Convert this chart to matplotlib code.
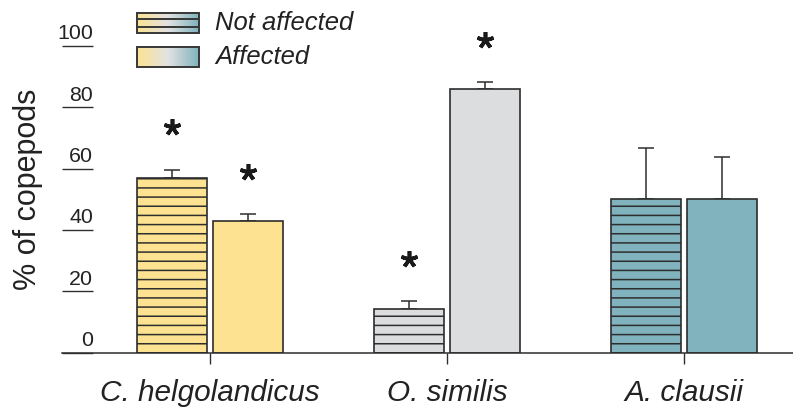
import numpy as np
import matplotlib
matplotlib.use("Agg")
import matplotlib.pyplot as plt
from matplotlib.colors import LinearSegmentedColormap
from matplotlib.transforms import ScaledTranslation

# ---- data ----
species = ["C. helgolandicus", "O. similis", "A. clausii"]
not_affected = [56.9, 14.3, 50.0]
not_affected_err = [2.7, 2.5, 16.6]
affected = [43.0, 85.8, 50.0]
affected_err = [2.2, 2.4, 13.7]
significant_not_affected = [True, True, False]
significant_affected = [True, True, False]
yticks = [0, 20, 40, 60, 80, 100]
ylabel = "% of copepods"
legend_labels = ["Not affected", "Affected"]

# ---- style ----
DPI = 110
W, H = 793, 412
bar_colors = ["#fde391", "#dcdddf", "#80b3bd"]
edge = "#2e2e2e"
txt = "#222222"
plt.rcParams["font.family"] = ["Liberation Sans", "DejaVu Sans"]
plt.rcParams["hatch.linewidth"] = 1.0

fig = plt.figure(figsize=(W / DPI, H / DPI), dpi=DPI)
px_per_unit = 3.07
y0 = 352.7
ymax = 110
top_px = y0 - ymax * px_per_unit
ax = fig.add_axes([62 / W, (H - y0) / H, (W - 62) / W, (y0 - top_px) / H])

x = np.arange(len(species))
off, bw = 0.16, 0.293
ax.bar(x - off, not_affected, width=bw, color=bar_colors, edgecolor=edge,
       linewidth=1.1, hatch="--", zorder=2)
ax.bar(x + off, affected, width=bw, color=bar_colors, edgecolor=edge,
       linewidth=1.1, zorder=2)
for xs, v, e in ((x - off, not_affected, not_affected_err), (x + off, affected, affected_err)):
    ax.errorbar(xs, v, yerr=[np.zeros(len(v)), e], fmt="none", ecolor=edge,
                elinewidth=1.0, capsize=5.2, capthick=1.0, zorder=1)

# significance asterisks
for xs, v, e, sig in ((x - off, not_affected, not_affected_err, significant_not_affected),
                      (x + off, affected, affected_err, significant_affected)):
    for xi, vi, ei, s in zip(xs, v, e, sig):
        if s:
            ax.plot(xi, vi + ei + 13.8, marker=(5, 2, 0), markersize=11,
                    markeredgewidth=2.4, color="#1a1a1a", clip_on=False)

ax.set_xlim(-(210 - 62) / 237, 2 + (W - 684) / 237)
ax.set_ylim(0, ymax)
for s in ("left", "top", "right"):
    ax.spines[s].set_visible(False)
ax.spines["bottom"].set_linewidth(1.0)
ax.spines["bottom"].set_color(edge)

ax.set_xticks(x)
ax.set_xticklabels(species, fontsize=19.5, style="italic", color=txt)
ax.tick_params(axis="x", length=7.2, width=0.9, color=edge, pad=10)

ax.set_yticks(yticks)
ax.set_yticklabels([str(t) for t in yticks], fontsize=14, color=txt)
ax.tick_params(axis="y", direction="in", length=20.3, width=0.9, color=edge, pad=-20.5)
shift = ScaledTranslation(0, 14 / DPI, fig.dpi_scale_trans)
for lab in ax.get_yticklabels():
    lab.set_transform(lab.get_transform() + shift)

ax.set_ylabel(ylabel, fontsize=20, color=txt)
ax.yaxis.set_label_coords(-0.026, 0.485)

# ---- legend with gradient swatches ----
cmap = LinearSegmentedColormap.from_list("g", ["#fde391", "#e2e2e2", "#80b3bd"])
grad = np.linspace(0, 1, 256)[None, :]
for i, (lab, ytop) in enumerate(zip(legend_labels, (13, 47))):
    lax = fig.add_axes([137 / W, (H - ytop - 20) / H, 62 / W, 20 / H])
    lax.imshow(grad, aspect="auto", cmap=cmap, extent=(0, 1, 0, 1))
    lax.set_xlim(0, 1)
    lax.set_ylim(0, 1)
    lax.set_xticks([])
    lax.set_yticks([])
    for sp in lax.spines.values():
        sp.set_linewidth(1.3)
        sp.set_color("#3a3a3a")
    if i == 0:
        lax.hlines([0.3, 0.7], 0, 1, color="#3a3a3a", linewidth=1.3)
    fig.text(215 / W, 1 - (ytop + 10) / H, lab, fontsize=16.8, style="italic",
             color=txt, va="center", ha="left")

fig.savefig("out.png", dpi=DPI)
